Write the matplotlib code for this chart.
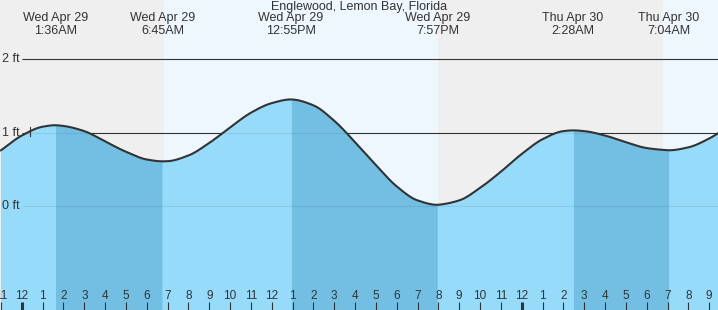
import numpy as np
import matplotlib.pyplot as plt

plt.rcParams['font.family'] = ['Liberation Sans', 'DejaVu Sans']

title = "Englewood, Lemon Bay, Florida"

# hours after midnight Wed Apr 29, tide height in ft
hours = [-1, 0, 1, 1.6, 2, 3, 4, 5, 6, 6.75, 7, 8, 9, 10, 11, 12, 12.917,
         13, 14, 15, 16, 17, 18, 19, 19.95, 20, 21, 22, 23, 24, 25, 26, 26.467,
         27, 28, 29, 30, 31, 31.067, 32, 33, 34]
heights = [0.76, 0.96, 1.08, 1.10, 1.09, 1.02, 0.88, 0.74, 0.635, 0.61, 0.612, 0.69,
           0.86, 1.07, 1.27, 1.40, 1.45, 1.449, 1.37, 1.16, 0.87, 0.56, 0.27, 0.08,
           0.02, 0.021, 0.08, 0.25, 0.47, 0.71, 0.91, 1.02, 1.03, 1.02, 0.96, 0.87,
           0.79, 0.761, 0.76, 0.80, 0.92, 1.10]

event_hours = [1.6, 6.75, 12.917, 19.95, 26.467, 31.067]
event_days = ["Wed Apr 29", "Wed Apr 29", "Wed Apr 29", "Wed Apr 29", "Thu Apr 30", "Thu Apr 30"]
event_times = ["1:36AM", "6:45AM", "12:55PM", "7:57PM", "2:28AM", "7:04AM"]

falling = [(1.6, 6.75), (12.917, 19.95), (26.467, 31.067)]
daylight = [(6.82, 19.97), (30.77, 40)]
tick_hours = list(range(-1, 34))
levels = [0, 1, 2]

# pixel mapping
PX, X0 = 20.83, 21.8
FT, Y0 = 73.7, 206.3
def hx(x):
    return (x - X0) / PX
def fy(y):
    return (Y0 - y) / FT


def pchip(x, y, xs):
    # monotone cubic, only used to draw a smooth line through the readings
    x = np.asarray(x, float)
    y = np.asarray(y, float)
    h = np.diff(x)
    d = np.diff(y) / h
    m = np.zeros_like(y)
    for k in range(1, len(x) - 1):
        if d[k - 1] * d[k] > 0:
            w1 = 2 * h[k] + h[k - 1]
            w2 = h[k] + 2 * h[k - 1]
            m[k] = (w1 + w2) / (w1 / d[k - 1] + w2 / d[k])
    m[0], m[-1] = d[0], d[-1]
    i = np.clip(np.searchsorted(x, xs) - 1, 0, len(x) - 2)
    t = (xs - x[i]) / h[i]
    h00 = 2 * t**3 - 3 * t**2 + 1
    h10 = t**3 - 2 * t**2 + t
    h01 = -2 * t**3 + 3 * t**2
    h11 = t**3 - t**2
    return h00 * y[i] + h10 * h[i] * m[i] + h01 * y[i + 1] + h11 * h[i] * m[i + 1]


xs = np.linspace(hours[0], hours[-1], 1500)
ys = pchip(hours, heights, xs)

fig = plt.figure(figsize=(7.18, 3.10), dpi=100)
fig.patch.set_facecolor('#efefef')
ax = fig.add_axes([0, 0, 1, 1])
ax.axis('off')
ax.set_xlim(hx(0), hx(718))
ax.set_ylim(fy(310), fy(0))
bottom = fy(310)

for a, b in daylight:
    ax.axvspan(a, b, color='#eef7fe', lw=0, zorder=0)

ax.hlines(levels, hx(22), hx(718), color='#333333', lw=0.8, zorder=1)
for lv in levels:
    ax.text(hx(2), lv, f"{lv} ft", ha='left', va='center', fontsize=9, color='#333333')

ax.fill_between(xs, ys, bottom, color='#97dbfb', lw=0, zorder=2)
for a, b in falling:
    ax.fill_between(xs, ys, bottom, where=(xs >= a) & (xs <= b),
                    color='#72bfe3', lw=0, zorder=2)
ax.hlines(levels, hx(22), hx(718), color='#333333', lw=0.8, alpha=0.1, zorder=3)

ax.plot(xs, ys, color='#333333', lw=1.5, zorder=4)

# marker near 1 ft
ax.plot([hx(30), hx(30)], [fy(127), fy(136)], color='#333333', lw=0.8, zorder=4)

for h in tick_hours:
    lbl = str(h % 12 if h % 12 else 12)
    ax.plot([h, h], [fy(302), fy(310)], color='#333333',
            lw=2.2 if h % 24 == 0 else 0.8, zorder=5, solid_capstyle='butt')
    ax.text(h, fy(296), lbl, ha='center', va='center', fontsize=8.5, color='#333333', zorder=5)

for h, d, t in zip(event_hours, event_days, event_times):
    ax.text(h, fy(18), d, ha='center', va='center', fontsize=9, color='#333333')
    ax.text(h, fy(31), t, ha='center', va='center', fontsize=9, color='#333333')

ax.text(hx(359), fy(7), title, ha='center', va='center', fontsize=9, color='#333333')

fig.savefig('out.png', dpi=100)
